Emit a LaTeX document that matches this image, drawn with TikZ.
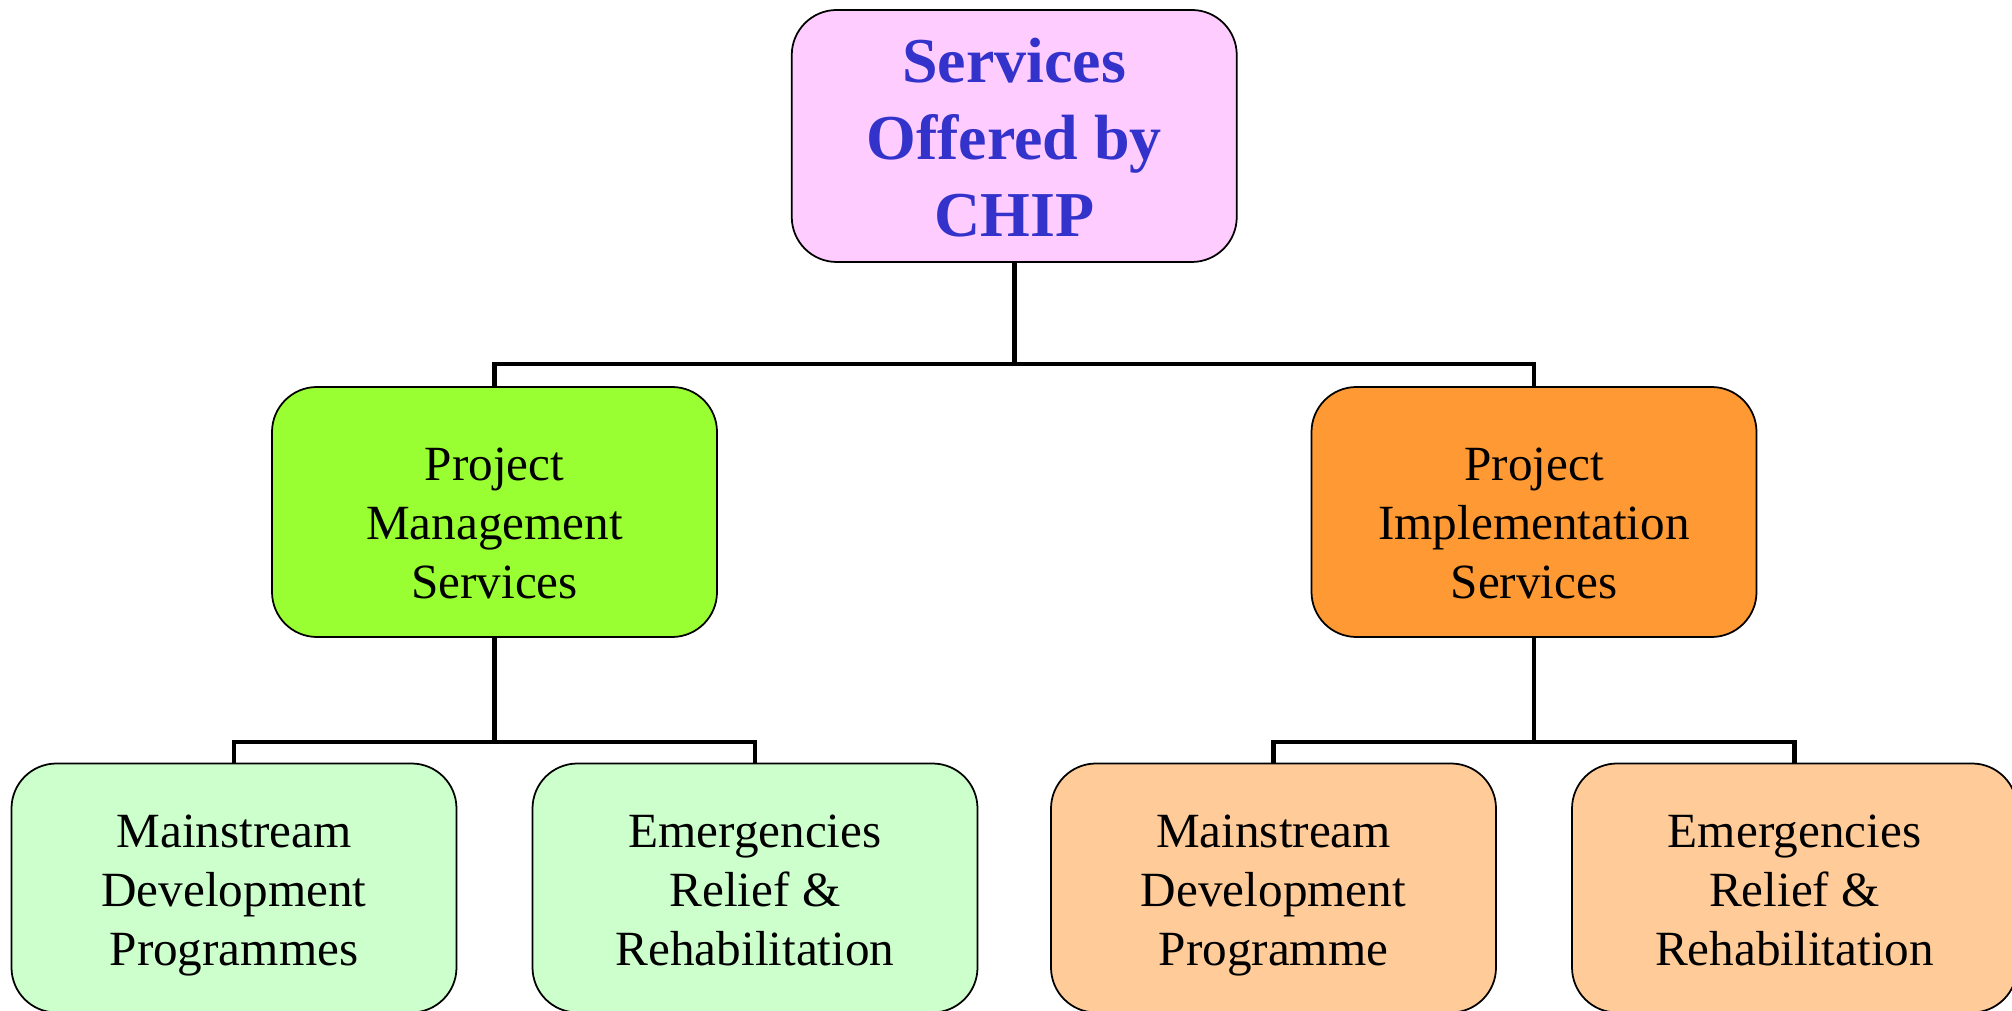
\documentclass[tikz,border=0pt]{standalone}
\usepackage{fontspec}
\setmainfont{Liberation Serif}
\usepackage{tikz}
\usetikzlibrary{positioning}
\definecolor{rootpink}{HTML}{FFCCFF}
\definecolor{rootblue}{HTML}{3333CC}
\definecolor{mgmtgreen}{HTML}{99FF33}
\definecolor{implorange}{HTML}{FF9933}
\definecolor{palegreen}{HTML}{CCFFCC}
\definecolor{paleorange}{HTML}{FFCC99}
\tikzset{
every box/.style={draw=black, line width=0.5pt, rounded corners=0.45cm,
    minimum width=4.45cm, minimum height=2.5cm, align=center, text depth=0pt,
    font=\fontsize{14}{16.8}\selectfont},
rootbox/.style={every box, fill=rootpink, minimum height=2.52cm, text=rootblue,
    text height=2.02cm, font=\fontsize{18.2}{22}\selectfont\bfseries},
midbox/.style={every box, text height=1.74cm},
leafbox/.style={every box, minimum height=2.49cm, text height=1.55cm},
link/.style={line width=1.3pt},
}

\begin{document}
\begin{tikzpicture}[
    level distance=3.76cm,
    level 1/.style={sibling distance=10.395cm},
    level 2/.style={sibling distance=5.21cm},
    edge from parent/.style={draw=none}
]
    \useasboundingbox (0,0) rectangle (20.12,-10.11);
    \node[rootbox] (root) at (10.1425,-1.36) {Services\\Offered by\\CHIP}
    child {node[midbox, fill=mgmtgreen] (pms) {Project\\Management\\Services}
        child {node[leafbox, fill=palegreen] (pmsmain) {Mainstream\\Development\\Programmes}}
        child {node[leafbox, fill=palegreen] (pmsrelief) {Emergencies\\Relief \&\\Rehabilitation}}
    }
    child {node[midbox, fill=implorange] (pis) {Project\\Implementation\\Services}
        child {node[leafbox, fill=paleorange] (pismain) {Mainstream\\Development\\Programme}}
        child {node[leafbox, fill=paleorange] (pisrelief) {Emergencies\\Relief \&\\Rehabilitation}}
    };
    % connectors
    \draw[link] (root.south) -- ++(0,-1.01) coordinate (rootjoin);
    \draw[link] (pms.north) |- (rootjoin) -| (pis.north);
    \draw[link] (pms.south) -- ++(0,-1.04) coordinate (pmsjoin);
    \draw[link] (pmsmain.north) |- (pmsjoin) -| (pmsrelief.north);
    \draw[link] (pis.south) -- ++(0,-1.04) coordinate (pisjoin);
    \draw[link] (pismain.north) |- (pisjoin) -| (pisrelief.north);
\end{tikzpicture}
\end{document}
